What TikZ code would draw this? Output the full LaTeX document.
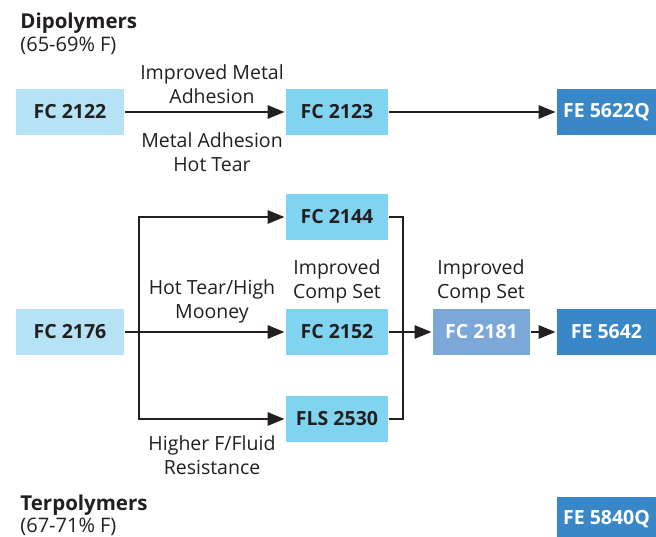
\documentclass[tikz,border=0pt]{standalone}
\usepackage{fontspec}
\setmainfont{Open Sans}
\usetikzlibrary{arrows.meta}
\definecolor{paleblue}{HTML}{B5E2F5}
\definecolor{skyblue}{HTML}{80D4F0}
\definecolor{steelblue}{HTML}{7BA7D9}
\definecolor{deepblue}{HTML}{3A87C8}
\definecolor{ink}{HTML}{231F20}
\begin{document}
\begin{tikzpicture}[x=1pt,y=-1pt,line width=2.8pt,color=ink,
	every node/.style={font=\fontsize{19.5}{24}\selectfont,text=ink},
	grade/.style={fill=skyblue,minimum width=102pt,minimum height=46pt,inner sep=0pt,font=\fontsize{19.5}{24}\selectfont\bfseries},
	base/.style={grade,fill=paleblue,minimum width=108pt},
	blend/.style={grade,fill=steelblue,minimum width=97pt,text=white},
	final/.style={grade,fill=deepblue,minimum width=99pt,text=white},
	note/.style={align=center,inner sep=0pt},
	head/.style={anchor=base west,inner sep=0pt,font=\fontsize{20.5}{24}\selectfont\bfseries},
	share/.style={anchor=base west,inner sep=0pt,font=\fontsize{20}{24}\selectfont},
	flow/.style={-{Triangle[length=17pt,width=13pt]}}]
		\useasboundingbox (0,0) rectangle (656,537);
		% Dipolymers
		\node[head] (dihead) at (19,29) {Dipolymers};
		\node[share] (dishare) at (19,52) {(65-69\% F)};
		\node[base] (fc2122) at (70,112) {FC 2122};
		\node[grade] (fc2123) at (337,112) {FC 2123};
		\node[final] (fe5622q) at (606.5,112) {FE 5622Q};
		\draw[flow] (fc2122) -- (fc2123);
		\draw[flow] (fc2123) -- (fe5622q);
		\node[note] (metalup) at (212,84) {Improved Metal\\Adhesion};
		\node[note] (hottear) at (212,152) {Metal Adhesion\\Hot Tear};
		% Branches from FC 2176
		\node[base] (fc2176) at (70,332) {FC 2176};
		\node[grade] (fc2144) at (337,217) {FC 2144};
		\node[grade] (fc2152) at (337,332) {FC 2152};
		\node[grade] (fls2530) at (337,419) {FLS 2530};
		\coordinate (split) at (139,332);
		\coordinate (merge) at (403,332);
		\draw[flow] (fc2176) -- (fc2152);
		\draw[flow] (split) |- (fc2144);
		\draw[flow] (split) |- (fls2530);
		\draw (fc2144.east) -| (merge);
		\draw (fls2530.east) -| (merge);
		\node[note] (mooney) at (212,301) {Hot Tear/High\\Mooney};
		\node[note] (fluid) at (212,455) {Higher F/Fluid\\Resistance};
		\node[note] (compset) at (337,281) {Improved\\Comp Set};
		% Comp set line
		\node[blend] (fc2181) at (481.5,332) {FC 2181};
		\node[final] (fe5642) at (606.5,332) {FE 5642};
		\draw[flow] (fc2152) -- (fc2181);
		\draw[flow] (fc2181) -- (fe5642);
		\node[note] (compsetb) at (481,281) {Improved\\Comp Set};
		% Terpolymers
		\node[head] (terhead) at (19,510) {Terpolymers};
		\node[share] (tershare) at (19,532) {(67-71\% F)};
		\node[final,minimum height=44pt] (fe5840q) at (606.5,519) {FE 5840Q};
\end{tikzpicture}
\end{document}
